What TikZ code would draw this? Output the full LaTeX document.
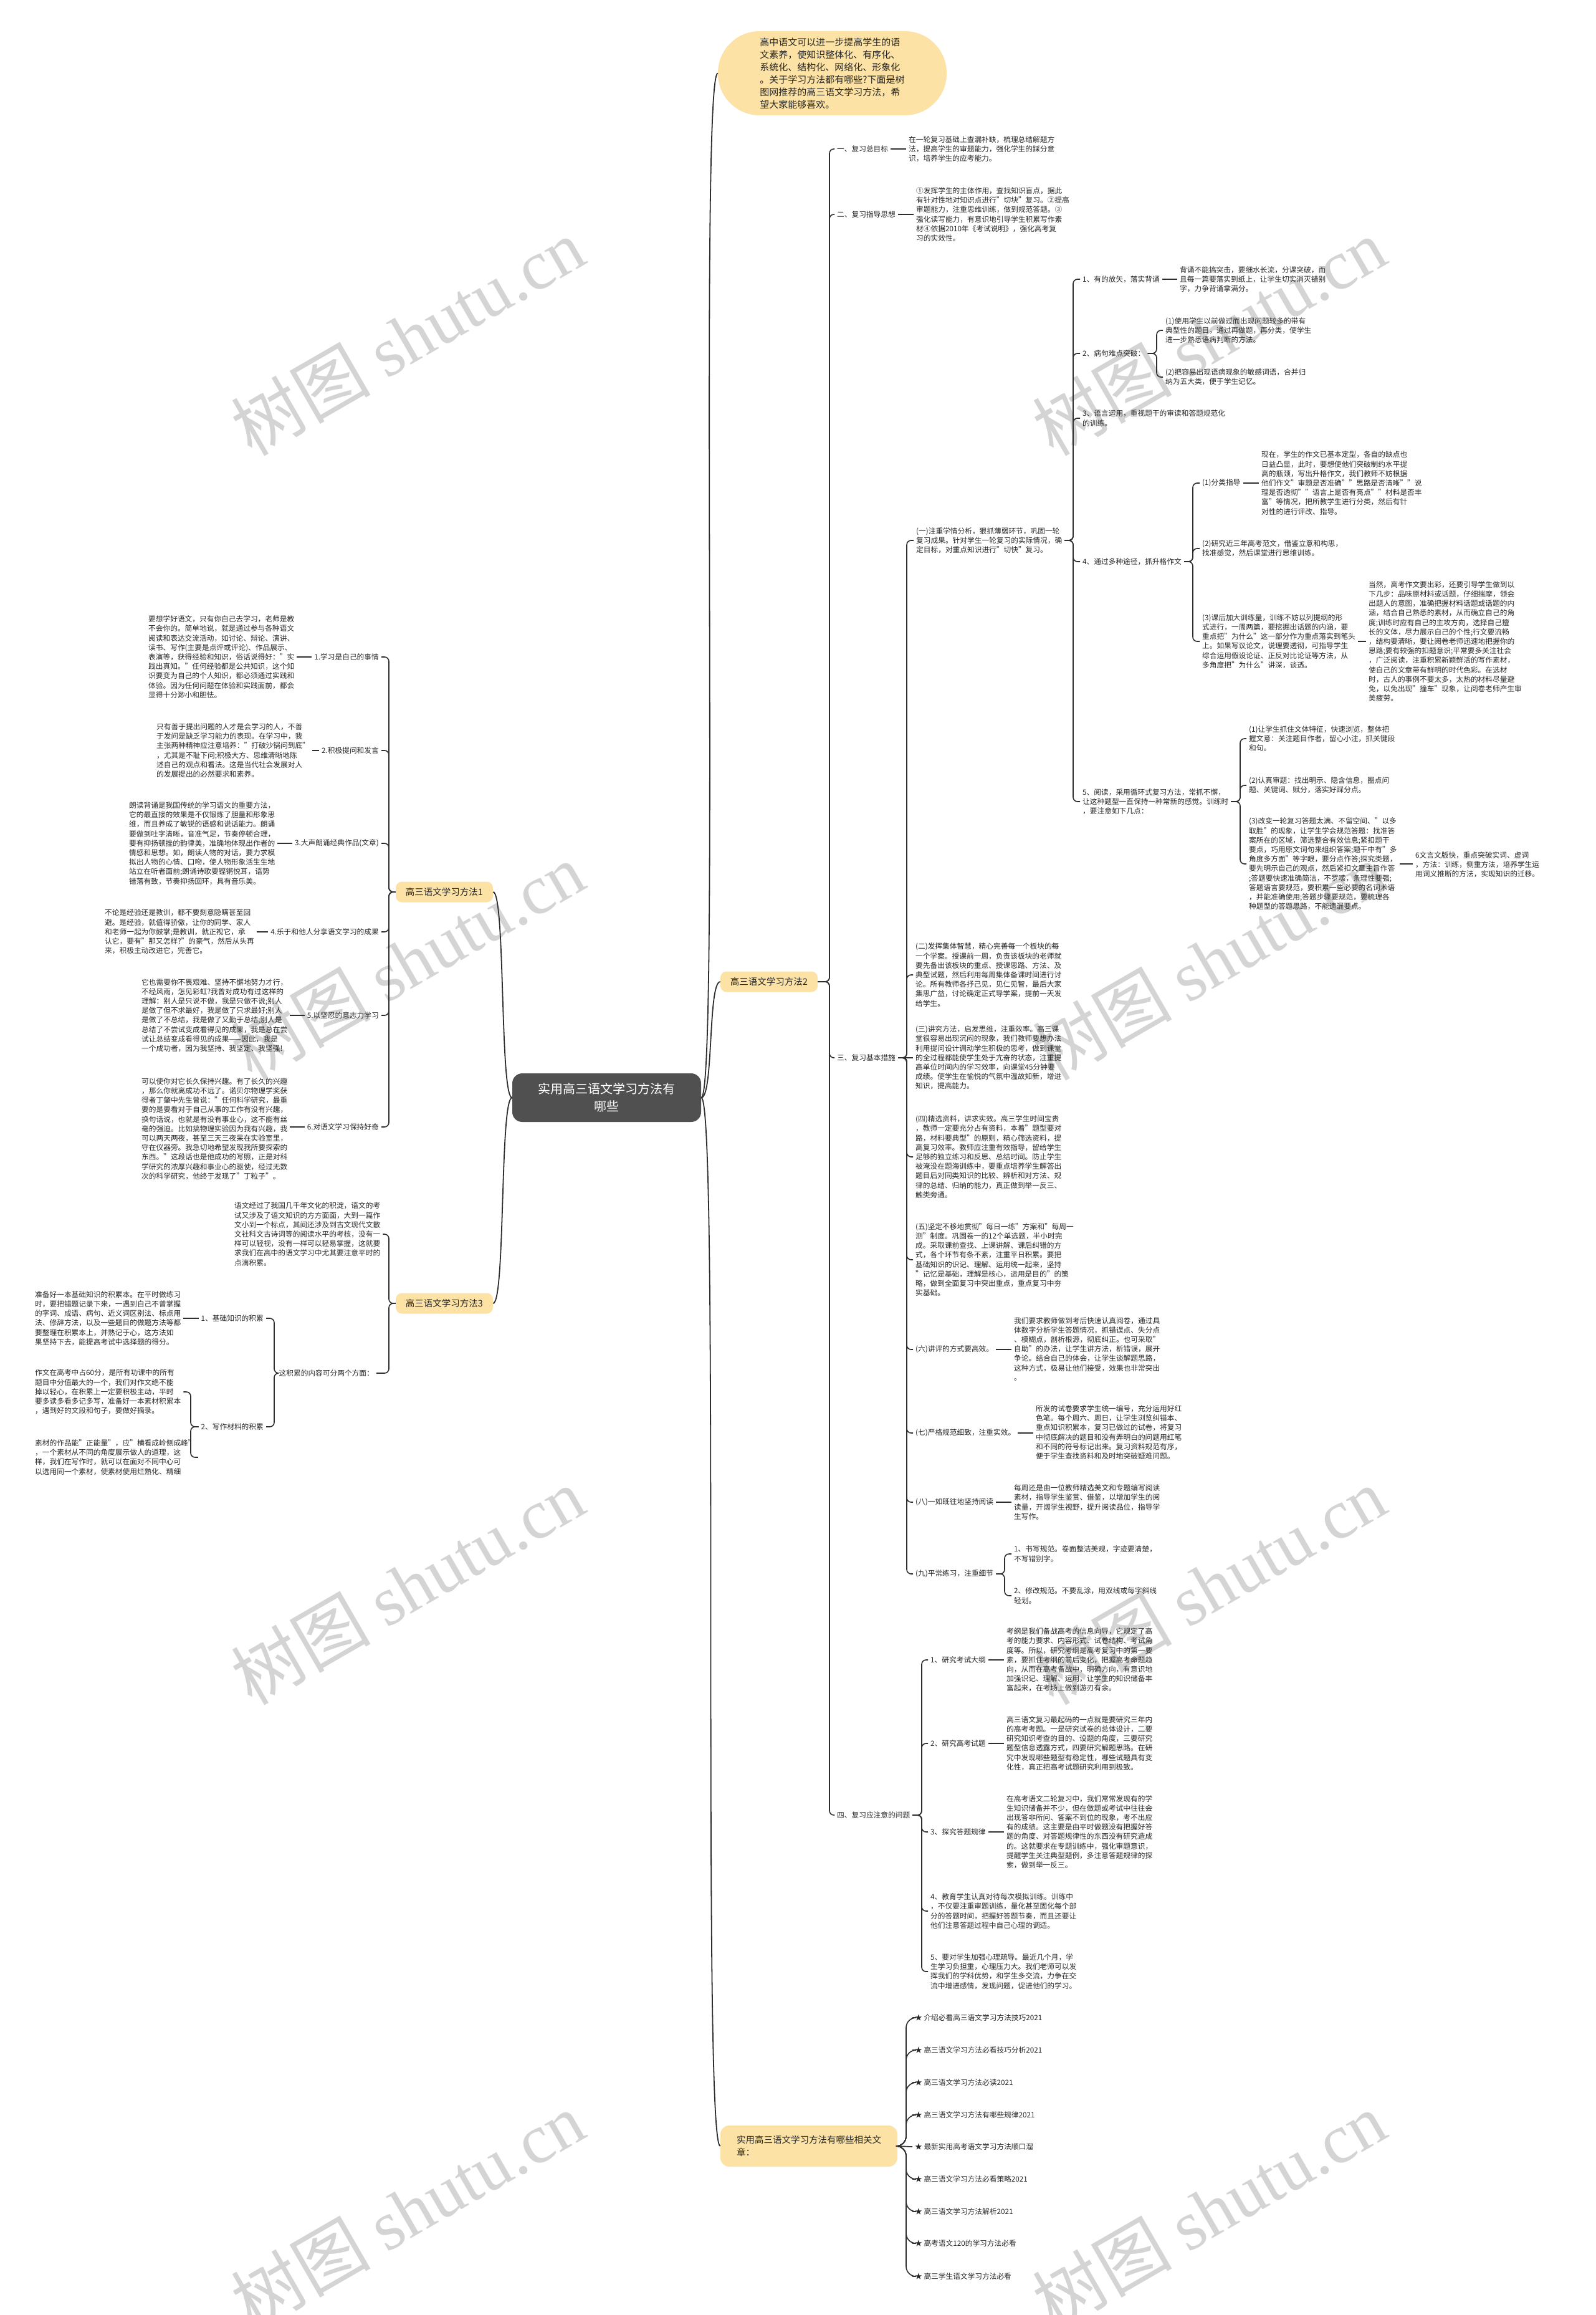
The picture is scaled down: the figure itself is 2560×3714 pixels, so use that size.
\documentclass[tikz,border=0pt]{standalone}
\usepackage{fontspec}
\setmainfont{Noto Sans CJK SC}
\newfontfamily\wmserif{Liberation Serif}
\definecolor{nodeyellow}{HTML}{FCE2A4}
\definecolor{centergray}{HTML}{505050}
\definecolor{linec}{HTML}{2E2E2E}
\tikzset{
 tx/.style={font=\fontsize{11.7}{15.2}\selectfont, align=left, inner xsep=4pt, inner ysep=1pt, anchor=west, text=black!85},
 txr/.style={tx, anchor=east},
 conn/.style={draw=linec, line width=1.6pt, rounded corners=7pt},
 connr/.style={draw=linec, line width=1.6pt, rounded corners=16pt},
 curve/.style={draw=linec, line width=1.8pt},
 topic/.style={fill=nodeyellow, rounded corners=10pt, font=\fontsize{14.5}{20}\selectfont, minimum width=156pt, minimum height=33pt, inner sep=0pt, text=black!85},
 wm/.style={text=black!17, font=\fontsize{112}{112}\selectfont, rotate=30, inner sep=0pt}
}
\begin{document}
\begin{tikzpicture}[x=1pt,y=-1pt]
\useasboundingbox (0,0) rectangle (2560,3714);
\fill[white] (0,0) rectangle (2560,3714);

% watermarks
\foreach \wy in {540,1542,2544,3546}{
  \node[wm] at (654,\wy) {树图 {\wmserif shutu.cn}};
  \node[wm] at (1940,\wy) {树图 {\wmserif shutu.cn}};
}

% centre
\node[fill=centergray, text=white, rounded corners=16pt, minimum width=303pt, minimum height=78pt, font=\fontsize{20}{28}\selectfont, align=center] (cn) at (973.5,1761) {实用高三语文学习方法有\\哪些};

% intro bubble
\node[fill=nodeyellow, rounded corners=67pt, minimum width=367pt, minimum height=135pt, font=\fontsize{15}{20}\selectfont, align=left, text=black!85] (bub) at (1335.5,117.5) {高中语文可以进一步提高学生的语\\文素养，使知识整体化、有序化、\\系统化、结构化、网络化、形象化\\。关于学习方法都有哪些?下面是树\\图网推荐的高三语文学习方法，希\\望大家能够喜欢。};

% main topics
\node[topic] (m1) at (713,1431) {高三语文学习方法1};
\node[topic] (m2) at (1234,1575) {高三语文学习方法2};
\node[topic] (m3) at (713,2091) {高三语文学习方法3};
\node[topic, align=left, minimum width=284pt, minimum height=66pt, rounded corners=14pt] (rel) at (1298,3443) {实用高三语文学习方法有哪些相关文\\章：};

\draw[curve] (cn.east) .. controls +(30,0) and +(-30,0) .. (bub.west);
\draw[curve] (cn.east) .. controls +(20,0) and +(-20,0) .. (m2.west);
\draw[curve] (cn.east) .. controls +(30,0) and +(-30,0) .. (rel.west);
\draw[curve] (cn.west) .. controls +(-20,0) and +(20,0) .. (m1.east);
\draw[curve] (cn.west) .. controls +(-20,0) and +(20,0) .. (m3.east);

% ================= METHOD 2 =================
\coordinate (s2) at (1331,0);
\node[tx] (l1) at (1339,239) {一、复习总目标};
\node[tx] (t1) at (1454,239) {在一轮复习基础上查漏补缺，梳理总结解题方\\法，提高学生的审题能力，强化学生的踩分意\\识，培养学生的应考能力。};
\node[tx] (l2) at (1339,344) {二、复习指导思想};
\node[tx] (t2) at (1466,344) {①发挥学生的主体作用，查找知识盲点，据此\\有针对性地对知识点进行"切块"复习。②提高\\审题能力，注重思维训练，做到规范答题。③\\强化读写能力，有意识地引导学生积累写作素\\材④依据2010年《考试说明》，强化高考复\\习的实效性。};
\node[tx] (l3) at (1339,1697) {三、复习基本措施};
\node[tx] (l4) at (1339,2912) {四、复习应注意的问题};
\foreach \c in {l1,l2,l3,l4}{\draw[conn] (m2.east) -- (m2.east -| s2) |- (\c.west);}
\draw[conn] (l1.east) -- (t1.west |- l1.east);
\draw[conn] (l2.east) -- (t2.west |- l2.east);

% --- 三 ---
\coordinate (s3) at (1455,0);
\node[tx] (a1) at (1466,867) {(一)注重学情分析，狠抓薄弱环节，巩固一轮\\复习成果。针对学生一轮复习的实际情况，确\\定目标，对重点知识进行"切快"复习。};
\node[tx] (a2) at (1465,1564) {(二)发挥集体智慧，精心完善每一个板块的每\\一个学案。授课前一周，负责该板块的老师就\\要先备出该板块的重点、授课思路、方法、及\\典型试题，然后利用每周集体备课时间进行讨\\论。所有教师各抒己见，见仁见智，最后大家\\集思广益，讨论确定正式导学案，提前一天发\\给学生。};
\node[tx] (a3) at (1465,1697) {(三)讲究方法，启发思维，注重效率。高三课\\堂很容易出现沉闷的现象，我们教师要想办法\\利用提问设计调动学生积极的思考，做到课堂\\的全过程都能使学生处于亢奋的状态，注重提\\高单位时间内的学习效率，向课堂45分钟要\\成绩。使学生在愉悦的气氛中温故知新，增进\\知识，提高能力。};
\node[tx] (a4) at (1465,1856) {(四)精选资料，讲求实效。高三学生时间宝贵\\，教师一定要充分占有资料，本着"题型要对\\路，材料要典型"的原则，精心筛选资料，提\\高复习效率。教师应注重有效指导，留给学生\\足够的独立练习和反思、总结时间。防止学生\\被淹没在题海训练中，要重点培养学生解答出\\题目后对同类知识的比较、辨析和对方法、规\\律的总结、归纳的能力，真正做到举一反三、\\触类旁通。};
\node[tx] (a5) at (1465,2021) {(五)坚定不移地贯彻"每日一练"方案和"每周一\\测"制度。巩固卷一的12个单选题，半小时完\\成。采取课前查找、上课讲解、课后纠错的方\\式，各个环节有条不紊，注重平日积累。要把\\基础知识的识记、理解、运用统一起来，坚持\\"记忆是基础，理解是核心，运用是目的"的策\\略，做到全面复习中突出重点，重点复习中夯\\实基础。};
\node[tx] (a6) at (1465,2165) {(六)讲评的方式要高效。};
\node[tx] (a6t) at (1623,2164) {我们要求教师做到考后快速认真阅卷，通过具\\体数字分析学生答题情况，抓错误点、失分点\\、模糊点，剖析根源，彻底纠正。也可采取"\\自助"的办法，让学生讲方法，析错误，展开\\争论。结合自己的体会，让学生谈解题思路，\\这种方式，极易让他们接受，效果也非常突出\\。};
\node[tx] (a7) at (1465,2299) {(七)严格规范细致，注重实效。};
\node[tx] (a7t) at (1658,2298) {所发的试卷要求学生统一编号，充分运用好红\\色笔。每个周六、周日，让学生浏览纠错本、\\重点知识积累本，复习已做过的试卷，将复习\\中彻底解决的题目和没有弄明白的问题用红笔\\和不同的符号标记出来。复习资料规范有序，\\便于学生查找资料和及时地突破疑难问题。};
\node[tx] (a8) at (1465,2410) {(八)一如既往地坚持阅读};
\node[tx] (a8t) at (1623,2410) {每周还是由一位教师精选美文和专题编写阅读\\素材，指导学生鉴赏、借鉴，以增加学生的阅\\读量，开阔学生视野，提升阅读品位，指导学\\生写作。};
\node[tx] (a9) at (1465,2525) {(九)平常练习，注重细节};
\node[tx] (a9a) at (1623,2493) {1、书写规范。卷面整洁美观，字迹要清楚，\\不写错别字。};
\node[tx] (a9b) at (1623,2560) {2、修改规范。不要乱涂，用双线或每字斜线\\轻划。};
\foreach \c in {a1,a2,a4,a5,a6,a7,a8,a9}{\draw[conn] (l3.east) -- (l3.east -| s3) |- (\c.west);}
\draw[conn] (l3.east) -- (a3.west);
\draw[conn] (a6.east) -- (a6t.west |- a6.east);
\draw[conn] (a7.east) -- (a7t.west |- a7.east);
\draw[conn] (a8.east) -- (a8t.west |- a8.east);
\coordinate (s9) at (1612,0);
\foreach \c in {a9a,a9b}{\draw[conn] (a9.east) -- (a9.east -| s9) |- (\c.west);}

% --- (一) children ---
\coordinate (sa) at (1722,0);
\node[tx] (b1) at (1733,448) {1、有的放矢，落实背诵};
\node[tx] (b1t) at (1889,448) {背诵不能搞突击，要细水长流，分课突破，而\\且每一篇要落实到纸上，让学生切实消灭错别\\字，力争背诵拿满分。};
\node[tx] (b2) at (1733,567) {2、病句难点突破：};
\node[tx] (b2a) at (1866,530) {(1)使用学生以前做过而出现问题较多的带有\\典型性的题目，通过再做题，再分类，使学生\\进一步熟悉语病判断的方法。};
\node[tx] (b2b) at (1866,605) {(2)把容易出现语病现象的敏感词语，合并归\\纳为五大类，便于学生记忆。};
\node[tx] (b3) at (1733,671) {3、语言运用，重视题干的审读和答题规范化\\的训练。};
\node[tx] (b4) at (1733,901) {4、通过多种途径，抓升格作文};
\node[tx] (b5) at (1733,1286) {5、阅读，采用循环式复习方法，常抓不懈，\\让这种题型一直保持一种常新的感觉。训练时\\，要注意如下几点：};
\foreach \c in {b1,b2,b3,b4,b5}{\draw[conn] (a1.east) -- (a1.east -| sa) |- (\c.west);}
\draw[conn] (b1.east) -- (b1t.west |- b1.east);
\coordinate (sb2) at (1856,0);
\foreach \c in {b2a,b2b}{\draw[conn] (b2.east) -- (b2.east -| sb2) |- (\c.west);}

\coordinate (sb4) at (1914,0);
\node[tx] (c1) at (1925,775) {(1)分类指导};
\node[tx] (c1t) at (2020,775) {现在，学生的作文已基本定型，各自的缺点也\\日益凸显，此时，要想使他们突破制约水平提\\高的瓶颈，写出升格作文，我们教师不妨根据\\他们作文"审题是否准确""思路是否清晰""说\\理是否透彻""语言上是否有亮点""材料是否丰\\富"等情况，把所教学生进行分类，然后有针\\对性的进行评改、指导。};
\node[tx] (c2) at (1925,880) {(2)研究近三年高考范文，借鉴立意和构思，\\找准感觉，然后课堂进行思维训练。};
\node[tx] (c3) at (1925,1029) {(3)课后加大训练量，训练不妨以列提纲的形\\式进行，一周两篇，要挖掘出话题的内涵，要\\重点把"为什么"这一部分作为重点落实到笔头\\上。如果写议论文，说理要透彻，可指导学生\\综合运用假设论证、正反对比论证等方法，从\\多角度把"为什么"讲深，谈透。};
\node[tx] (c3t) at (2192,1029) {当然，高考作文要出彩，还要引导学生做到以\\下几步：品味原材料或话题，仔细揣摩，领会\\出题人的意图，准确把握材料话题或话题的内\\涵，结合自己熟悉的素材，从而确立自己的角\\度;训练时应有自己的主攻方向，选择自己擅\\长的文体，尽力展示自己的个性;行文要流畅\\，结构要清晰，要让阅卷老师迅速地把握你的\\思路;要有较强的扣题意识;平常要多关注社会\\，广泛阅读，注重积累新颖鲜活的写作素材，\\使自己的文章带有鲜明的时代色彩。在选材\\时，古人的事例不要太多，太热的材料尽量避\\免，以免出现"撞车"现象，让阅卷老师产生审\\美疲劳。};
\foreach \c in {c1,c2,c3}{\draw[conn] (b4.east) -- (b4.east -| sb4) |- (\c.west);}
\draw[conn] (c1.east) -- (c1t.west |- c1.east);
\draw[conn] (c3.east) -- (c3t.west |- c3.east);

\coordinate (sb5) at (1990,0);
\node[tx] (d1) at (2000,1185) {(1)让学生抓住文体特征，快速浏览，整体把\\握文意：关注题目作者，留心小注，抓关键段\\和句。};
\node[tx] (d2) at (2000,1260) {(2)认真审题：找出明示、隐含信息，圈点问\\题、关键词、赋分，落实好踩分点。};
\node[tx] (d3) at (2000,1386) {(3)改变一轮复习答题太满、不留空间、"以多\\取胜"的现象，让学生学会规范答题：找准答\\案所在的区域，筛选整合有效信息;紧扣题干\\要点，巧用原文词句来组织答案;题干中有"多\\角度多方面"等字眼，要分点作答;探究类题，\\要先明示自己的观点，然后紧扣文章主旨作答\\;答题要快速准确简洁，不罗嗦，条理性要强;\\答题语言要规范，要积累一些必要的名词术语\\，并能准确使用;答题步骤要规范，要梳理各\\种题型的答题思路，不能遗漏要点。};
\node[tx] (d3t) at (2267,1387) {6文言文版快，重点突破实词、虚词\\，方法：训练，侧重方法，培养学生运\\用词义推断的方法，实现知识的迁移。};
\foreach \c in {d1,d2,d3}{\draw[conn] (b5.east) -- (b5.east -| sb5) |- (\c.west);}
\draw[conn] (d3.east) -- (d3t.west |- d3.east);

% --- 四 ---
\coordinate (s4) at (1479,0);
\node[tx] (e1) at (1489,2663) {1、研究考试大纲};
\node[tx] (e1t) at (1611,2663) {考纲是我们备战高考的信息向导，它规定了高\\考的能力要求、内容形式、试卷结构、考试角\\度等。所以，研究考纲是高考复习中的第一要\\素，要抓住考纲的前后变化，把握高考命题趋\\向，从而在高考备战中，明确方向，有意识地\\加强识记、理解、运用，让学生的知识储备丰\\富起来，在考场上做到游刃有余。};
\node[tx] (e2) at (1489,2797) {2、研究高考试题};
\node[tx] (e2t) at (1611,2797) {高三语文复习最起码的一点就是要研究三年内\\的高考考题。一是研究试卷的总体设计，二要\\研究知识考查的目的、设题的角度，三要研究\\题型信息透露方式，四要研究解题思路。在研\\究中发现哪些题型有稳定性，哪些试题具有变\\化性，真正把高考试题研究利用到极致。};
\node[tx] (e3) at (1489,2939) {3、探究答题规律};
\node[tx] (e3t) at (1611,2939) {在高考语文二轮复习中，我们常常发现有的学\\生知识储备并不少，但在做题或考试中往往会\\出现答非所问、答案不到位的现象，考不出应\\有的成绩。这主要是由平时做题没有把握好答\\题的角度、对答题规律性的东西没有研究造成\\的。这就要求在专题训练中，强化审题意识，\\提醒学生关注典型题例，多注意答题规律的探\\索，做到举一反三。};
\node[tx] (e4) at (1489,3066) {4、教育学生认真对待每次模拟训练。训练中\\，不仅要注重审题训练，量化甚至固化每个部\\分的答题时间，把握好答题节奏，而且还要让\\他们注意答题过程中自己心理的调适。};
\node[tx] (e5) at (1489,3163) {5、要对学生加强心理疏导。最近几个月，学\\生学习负担重，心理压力大。我们老师可以发\\挥我们的学科优势，和学生多交流，力争在交\\流中增进感情，发现问题，促进他们的学习。};
\foreach \c in {e1,e2,e3,e4,e5}{\draw[conn] (l4.east) -- (l4.east -| s4) |- (\c.west);}
\draw[conn] (e1.east) -- (e1t.west |- e1.east);
\draw[conn] (e2.east) -- (e2t.west |- e2.east);
\draw[conn] (e3.east) -- (e3t.west |- e3.east);

% --- related articles ---
\coordinate (sr) at (1454,0);
\node[tx] (r1) at (1464,3237) {★ 介绍必看高三语文学习方法技巧2021};
\node[tx] (r2) at (1464,3289) {★ 高三语文学习方法必看技巧分析2021};
\node[tx] (r3) at (1464,3341) {★ 高三语文学习方法必读2021};
\node[tx] (r4) at (1464,3393) {★ 高三语文学习方法有哪些规律2021};
\node[tx] (r5) at (1464,3444) {★ 最新实用高考语文学习方法顺口溜};
\node[tx] (r6) at (1464,3496) {★ 高三语文学习方法必看策略2021};
\node[tx] (r7) at (1464,3548) {★ 高三语文学习方法解析2021};
\node[tx] (r8) at (1464,3599) {★ 高考语文120的学习方法必看};
\node[tx] (r9) at (1464,3652) {★ 高三学生语文学习方法必看};
\foreach \c in {r1,r2,r3,r4,r6,r7,r8,r9}{\draw[connr] (rel.east) -- (rel.east -| sr) |- (\c.west);}
\draw[conn] (rel.east) -- (r5.west);

% ================= METHOD 1 =================
\coordinate (s1) at (624,0);
\node[txr] (k1) at (612,1054) {1.学习是自己的事情};
\node[txr] (k2) at (612,1204) {2.积极提问和发言};
\node[txr] (k3) at (612,1353) {3.大声朗诵经典作品(文章)};
\node[txr] (k4) at (612,1495) {4.乐于和他人分享语文学习的成果};
\node[txr] (k5) at (612,1629) {5.以坚忍的意志力学习};
\node[txr] (k6) at (612,1808) {6.对语文学习保持好奇};
\foreach \c in {k1,k2,k3,k4,k5,k6}{\draw[conn] (m1.west) -- (m1.west -| s1) |- (\c.east);}
\node[tx] (q1) at (234,1054) {要想学好语文，只有你自己去学习，老师是教\\不会你的。简单地说，就是通过参与各种语文\\阅读和表达交流活动，如讨论、辩论、演讲、\\读书、写作(主要是点评或评论)、作品展示、\\表演等，获得经验和知识，俗话说得好："实\\践出真知。"任何经验都是公共知识，这个知\\识要变为自己的个人知识，都必须通过实践和\\体验。因为任何问题在体验和实践面前，都会\\显得十分渺小和胆怯。};
\node[tx] (q2) at (247,1204) {只有善于提出问题的人才是会学习的人，不善\\于发问是缺乏学习能力的表现。在学习中，我\\主张两种精神应注意培养："打破沙锅问到底"\\，尤其是不耻下问;积极大方、思维清晰地陈\\述自己的观点和看法。这是当代社会发展对人\\的发展提出的必然要求和素养。};
\node[tx] (q3) at (203,1353) {朗读背诵是我国传统的学习语文的重要方法，\\它的最直接的效果是不仅锻炼了胆量和形象思\\维，而且养成了敏锐的语感和说话能力。朗诵\\要做到吐字清晰，音准气足，节奏停顿合理，\\要有抑扬顿挫的韵律美，准确地体现出作者的\\情感和思想。如，朗读人物的对话，要力求模\\拟出人物的心情、口吻，使人物形象活生生地\\站立在听者面前;朗诵诗歌要铿锵悦耳，语势\\错落有致，节奏抑扬回环，具有音乐美。};
\node[tx] (q4) at (164,1495) {不论是经验还是教训，都不要刻意隐瞒甚至回\\避。是经验，就值得骄傲，让你的同学、家人\\和老师一起为你鼓掌;是教训，就正视它，承\\认它，要有"那又怎样?"的豪气，然后从头再\\来，积极主动改进它，完善它。};
\node[tx] (q5) at (223,1629) {它也需要你不畏艰难、坚持不懈地努力才行，\\不经风雨，怎见彩虹?我曾对成功有过这样的\\理解：别人是只说不做，我是只做不说;别人\\是做了但不求最好，我是做了只求最好;别人\\是做了不总结，我是做了又勤于总结;别人是\\总结了不尝试变成看得见的成果，我是总在尝\\试让总结变成看得见的成果——因此，我是\\一个成功者，因为我坚持、我坚定、我坚强!};
\node[tx] (q6) at (223,1811) {可以使你对它长久保持兴趣。有了长久的兴趣\\，那么你就离成功不远了。诺贝尔物理学奖获\\得者丁肇中先生曾说："任何科学研究，最重\\要的是要看对于自己从事的工作有没有兴趣，\\换句话说，也就是有没有事业心，这不能有丝\\毫的强迫。比如搞物理实验因为我有兴趣，我\\可以两天两夜，甚至三天三夜呆在实验室里，\\守在仪器旁。我急切地希望发现我所要探索的\\东西。"这段话也是他成功的写照，正是对科\\学研究的浓厚兴趣和事业心的驱使，经过无数\\次的科学研究，他终于发现了"丁粒子"。};
\draw[conn] (k1.west) -- (q1.east |- k1.west);
\draw[conn] (k2.west) -- (q2.east |- k2.west);
\draw[conn] (k3.west) -- (q3.east |- k3.west);
\draw[conn] (k4.west) -- (q4.east |- k4.west);
\draw[conn] (k5.west) -- (q5.east |- k5.west);
\draw[conn] (k6.west) -- (q6.east |- k6.west);

% ================= METHOD 3 =================
\node[tx] (f1) at (372,1980) {语文经过了我国几千年文化的积淀，语文的考\\试又涉及了语文知识的方方面面，大到一篇作\\文小到一个标点，其间还涉及到古文现代文散\\文社科文古诗词等的阅读水平的考核，没有一\\样可以轻视，没有一样可以轻易掌握，这就要\\求我们在高中的语文学习中尤其要注意平时的\\点滴积累。};
\node[txr] (f2) at (604,2203) {这积累的内容可分两个方面：};
\foreach \c in {f1,f2}{\draw[conn] (m3.west) -- (m3.west -| s1) |- (\c.east);}
\coordinate (sf) at (440,0);
\node[txr] (g1) at (427,2115) {1、基础知识的积累};
\node[txr] (g2) at (427,2289) {2、写作材料的积累};
\foreach \c in {g1,g2}{\draw[conn] (f2.west) -- (f2.west -| sf) |- (\c.east);}
\node[tx] (g1t) at (52,2115) {准备好一本基础知识的积累本。在平时做练习\\时，要把错题记录下来，一遇到自己不曾掌握\\的字词、成语、病句、近义词区别法、标点用\\法、修辞方法，以及一些题目的做题方法等都\\要整理在积累本上，并熟记于心，这方法如\\果坚持下去，能提高考试中选择题的得分。};
\draw[conn] (g1.west) -- (g1t.east |- g1.west);
\coordinate (sg) at (306,0);
\node[tx] (h1) at (52,2233) {作文在高考中占60分，是所有功课中的所有\\题目中分值最大的一个，我们对作文绝不能\\掉以轻心，在积累上一定要积极主动，平时\\要多读多看多记多写，准备好一本素材积累本\\，遇到好的文段和句子，要做好摘录。};
\node[tx] (h2) at (52,2338) {素材的作品能"正能量"，应"横看成岭侧成峰"\\，一个素材从不同的角度展示做人的道理，这\\样，我们在写作时，就可以在面对不同中心可\\以选用同一个素材，使素材使用烂熟化、精细};
\foreach \c in {h1,h2}{\draw[conn] (g2.west) -- (g2.west -| sg) |- (\c.east);}
\end{tikzpicture}
\end{document}
